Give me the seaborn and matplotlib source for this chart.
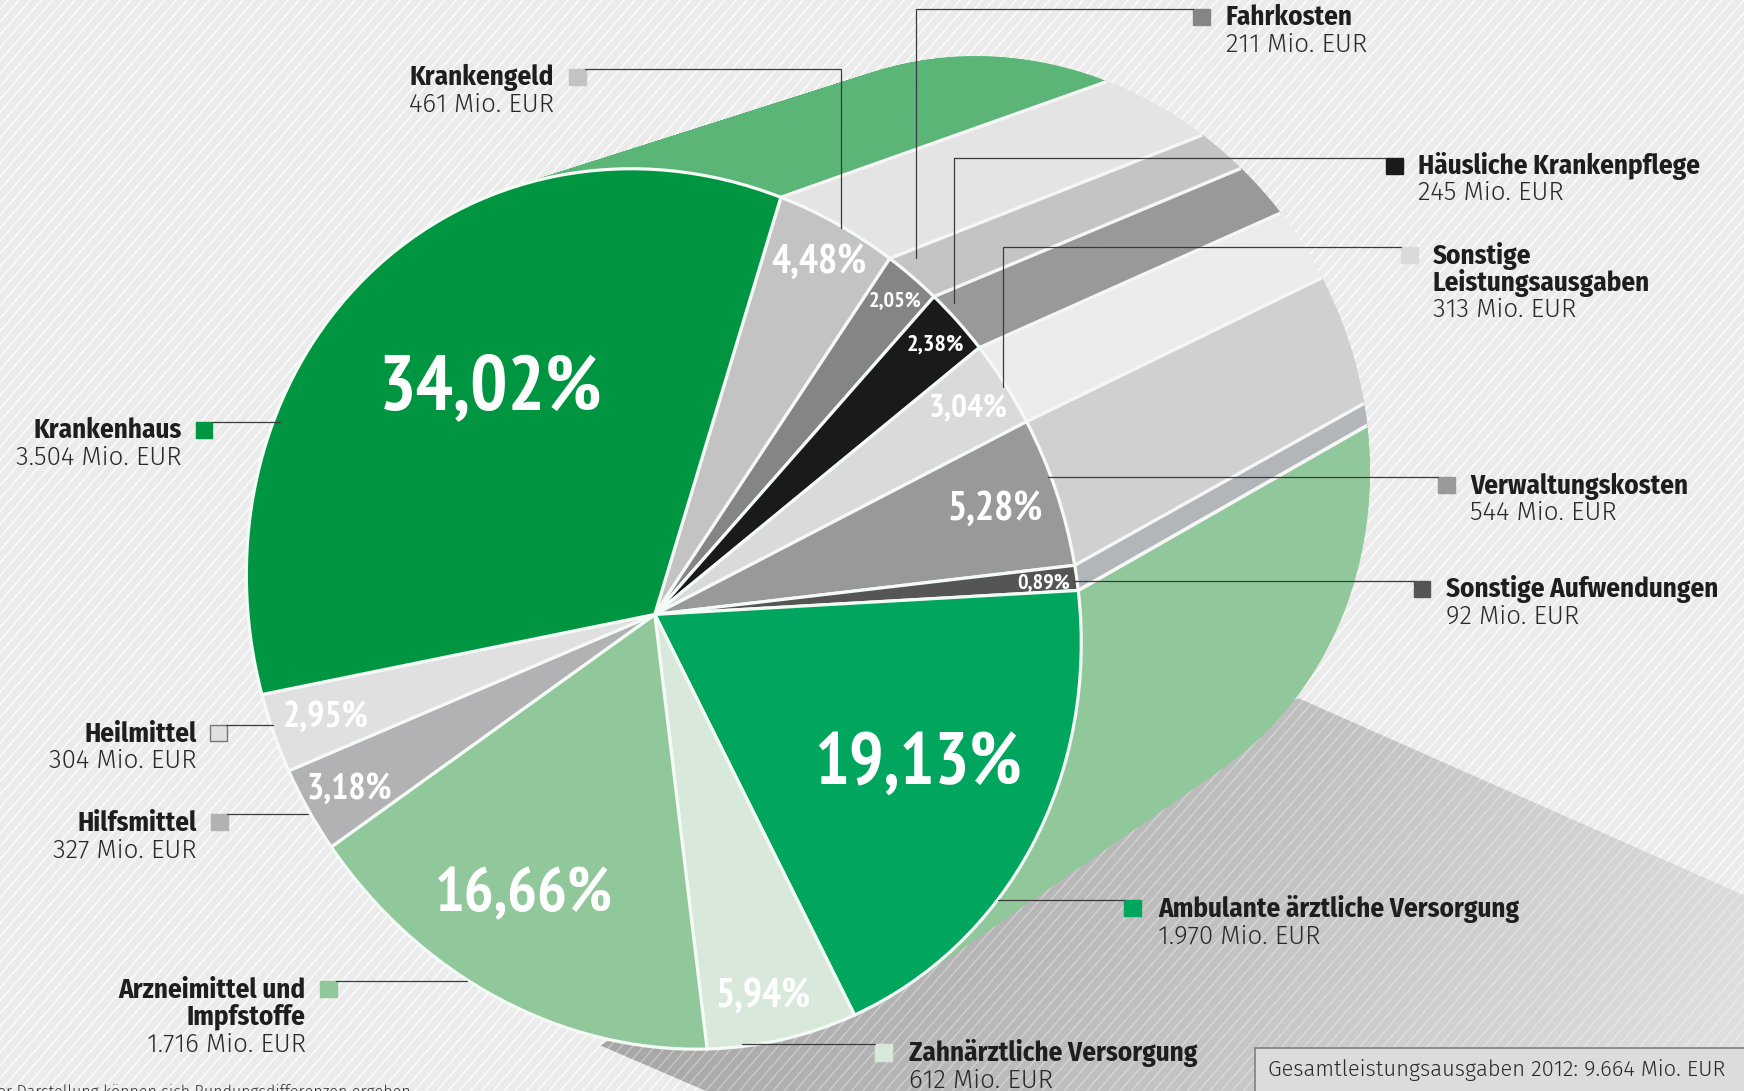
import numpy as np
import matplotlib
matplotlib.use("Agg")
import matplotlib.pyplot as plt
import seaborn as sns
from matplotlib.collections import LineCollection, PolyCollection
from matplotlib.patches import Polygon, Rectangle
from matplotlib.transforms import Transform

# ---- data ----
categories = ["Krankengeld", "Fahrkosten", "Häusliche Krankenpflege", "Sonstige Leistungsausgaben",
              "Verwaltungskosten", "Sonstige Aufwendungen", "Ambulante ärztliche Versorgung",
              "Zahnärztliche Versorgung", "Arzneimittel und Impfstoffe", "Hilfsmittel", "Heilmittel", "Krankenhaus"]
shares = [4.48, 2.05, 2.38, 3.04, 5.28, 0.89, 19.13, 5.94, 16.66, 3.18, 2.95, 34.02]
amounts = ["461", "211", "245", "313", "544", "92", "1.970", "612", "1.716", "327", "304", "3.504"]
face_colors = ["#C3C3C3", "#858585", "#1A1A1A", "#DADADA", "#999999", "#555555",
               "#00A65D", "#D8E9DC", "#90C89B", "#B2B2B4", "#E0E0E0", "#009540"]
side_colors = ["#E4E4E4", "#C4C4C4", "#999999", "#ECECEC", "#D0D0D0", "#B3B6B9",
               "#90C89B", None, None, None, None, "#5AB577"]
total_text = "Gesamtleistungsausgaben 2012: 9.664 Mio. EUR"
footnote = "Bei der Darstellung können sich Rundungsdifferenzen ergeben."

# ---- layout (reference pixels at 1568 wide) ----
K = 1744 / 1568
W, Ht = 1744, 1091
NARROW = ["PT Sans Narrow", "Liberation Sans Narrow", "DejaVu Sans"]
COND = ["Fira Sans Condensed", "Liberation Sans Narrow", "DejaVu Sans"]
LIGHT = ["Fira Sans", "Liberation Sans", "DejaVu Sans"]
# percent label centre x, y, size
pct_layout = [(736, 234, 29), (805, 269, 16), (841, 309, 17.5), (871, 365, 24), (895, 456, 29), (938, 522, 16),
              (825, 684, 52.5), (686, 894, 29), (471, 801, 45), (314, 707, 26), (293, 643, 26), (441, 345, 56.5)]
# label: text lines, anchor x, ha, first y, square x0,y0, leader points
label_layout = [
    (["Krankengeld"], 498, "right", 70, (512, 62), [(526, 62), (756, 62), (756, 205)]),
    (["Fahrkosten"], 1102, "left", 16, (1073, 8), [(1073, 8), (824, 8), (824, 232)]),
    (["Häusliche Krankenpflege"], 1275, "left", 149, (1246, 142), [(1246, 142), (858, 142), (858, 272)]),
    (["Sonstige", "Leistungsausgaben"], 1288, "left", 230, (1260, 222), [(1260, 222), (902, 222), (902, 348)]),
    (["Verwaltungskosten"], 1322, "left", 437, (1293, 429), [(1293, 429), (942, 429)]),
    (["Sonstige Aufwendungen"], 1300, "left", 530, (1271, 522), [(1271, 522), (965, 522)]),
    (["Ambulante ärztliche Versorgung"], 1041, "left", 817, (1011, 809), [(1011, 809), (897, 809)]),
    (["Zahnärztliche Versorgung"], 817, "left", 947, (787, 939), [(787, 939), (667, 939)]),
    (["Arzneimittel und", "Impfstoffe"], 275, "right", 890, (288, 882), [(302, 882), (420, 882)]),
    (["Hilfsmittel"], 177, "right", 740, (190, 732), [(204, 732), (277, 732)]),
    (["Heilmittel"], 177, "right", 660, (189, 652), [(203, 652), (245, 652)]),
    (["Krankenhaus"], 163, "right", 387, (176, 379), [(191, 379), (252, 379)]),
]

# projective view of the unit pie onto the page
VIEW = np.array([[403.190254, -0.597027, 654.779302],
                 [30.728123, -446.811861, 614.412627],
                 [-0.021295, -0.014599, 1.0]])
HUB = np.array([590.0, 553.0]) * K
BACK_HUB = np.array([897.0, 402.0]) * K
BACK_SCALE = 0.875


def project(xy):
    xy = np.asarray(xy, float)
    p = np.c_[xy, np.ones(len(xy))] @ VIEW.T
    return p[:, :2] / p[:, 2:]


class View(Transform):
    input_dims = output_dims = 2
    is_separable = False
    has_inverse = False

    def transform_non_affine(self, values):
        return project(values)


def rim(deg):
    t = np.radians(np.atleast_1d(deg))
    return project(np.c_[np.cos(t), np.sin(t)])


def back(pts):
    return BACK_HUB + BACK_SCALE * (pts - HUB)


sns.set_theme(style="white")
plt.rcParams["font.family"] = COND
fig = plt.figure(figsize=(W / 100, Ht / 100), dpi=100, facecolor="#EBEBEB")
ax = fig.add_axes([0, 0, 1, 1])

wedges, _ = ax.pie(shares, colors=face_colors, startangle=74, counterclock=False,
                   wedgeprops=dict(edgecolor="#F4FAF5", linewidth=2.3, joinstyle="miter"))
view = View() + ax.transData
for w in wedges:
    w.set_transform(view)
    w.set_zorder(4)
    w.set_clip_on(False)

ax.set_aspect("auto")
ax.set_xlim(0, W)
ax.set_ylim(Ht, 0)
ax.set_axis_on()
ax.set_frame_on(False)
ax.set_xticks([])
ax.set_yticks([])
ax.set_facecolor("#EBEBEB")

# background stripes
c = np.arange(-1000, W + Ht + 200, 11.2)
ys = np.array([0, Ht])
segs = [np.c_[x0 - ys / 1.15, ys] for x0 in c]
ax.add_collection(LineCollection(segs, colors="white", linewidths=1.1, alpha=0.85, zorder=0))

# shadow
shadow_pts = np.array([(540, 940), (635, 981), (1568, 981), (1568, 805), (1168, 628), (900, 700)], float) * K
gx, gy = np.meshgrid(np.linspace(0, 1568, 200), np.linspace(0, 981, 200))
grad = np.clip(102 + 0.0565 * gx + 0.0346 * gy, 0, 255)
img = ax.imshow(grad, extent=(0, W, Ht, 0), cmap="gray", vmin=0, vmax=255, aspect="auto", zorder=1,
                interpolation="bilinear")
shadow = Polygon(shadow_pts, closed=True, facecolor="none", edgecolor="none", transform=ax.transData)
ax.add_patch(shadow)
img.set_clip_path(shadow)
sh_lines = LineCollection(segs, colors="white", linewidths=1.0, alpha=0.35, zorder=1.5)
ax.add_collection(sh_lines)
sh_lines.set_clip_path(shadow)
ax.set_xlim(0, W)
ax.set_ylim(Ht, 0)

# cylinder sides: swept from every visible wedge's own angular span
for w, col in zip(wedges, side_colors):
    if col is None:
        continue
    a = np.arange(w.theta1, w.theta2 + 0.5, 0.5)
    a[-1] = w.theta2
    f = rim(a)
    b = back(f)
    quads = [np.array([f[i], f[i + 1], b[i + 1], b[i]]) for i in range(len(a) - 1)]
    ax.add_collection(PolyCollection(quads, facecolors=col, edgecolors=col, linewidths=0.6, zorder=2))
n_sep = side_colors.index(None)
for w in wedges[:n_sep - 0]:
    f = rim([w.theta2])
    ax.plot(*np.r_[f, back(f)].T, color="#F6F6F6", lw=2.4, zorder=3, solid_capstyle="butt")
f = rim([wedges[5].theta1])
ax.plot(*np.r_[f, back(f)].T, color="#F6F6F6", lw=2.4, zorder=3, solid_capstyle="butt")

# percent labels
for val, (x, y, size) in zip(shares, pct_layout):
    ax.text(x * K, (y + size * 0.09) * K, f"{val:.2f}%".replace(".", ","), color="white", fontsize=size,
            fontweight="bold", family=NARROW, ha="center", va="center", zorder=6)

# callouts
for cat, col, amt, (lines, x, ha, y, sq, lead) in zip(categories, face_colors, amounts, label_layout):
    for i, line in enumerate(lines):
        ax.text(x * K, (y + i * 24.2) * K, line, ha=ha, va="center", fontsize=19.5, fontweight="bold",
                color="#1E1E1E", zorder=6)
    ax.text(x * K, (y + len(lines) * 24.2) * K, f"{amt} Mio. EUR", ha=ha, va="center", fontsize=18.7,
            fontweight=300, family=LIGHT, color="#2A2A2A", zorder=6)
    ax.add_patch(Rectangle((sq[0] * K, sq[1] * K), 15 * K, 14.5 * K, facecolor=col, zorder=5,
                           edgecolor="#777777" if cat == "Heilmittel" else col, linewidth=1))
    lx, ly = np.array(lead).T * K
    ax.plot(lx, ly, color="#3A3A3A", lw=0.9, zorder=5, solid_joinstyle="miter")

# total box and footnote
ax.add_patch(Rectangle((1128 * K, 942 * K), 445 * K, 45 * K, facecolor="#DCDCDC", edgecolor="#808080",
                       linewidth=1.2, zorder=5))
ax.text(1140 * K, 962 * K, total_text, ha="left", va="center", fontsize=15.8, fontweight=300, family=LIGHT,
        color="#2A2A2A", zorder=6)
ax.text(372 * K, 975 * K, footnote, ha="right", va="top", fontsize=11.5, color="#333333", family=LIGHT,
        fontweight=300, zorder=6)

fig.savefig("out.png", dpi=100, facecolor=fig.get_facecolor())
